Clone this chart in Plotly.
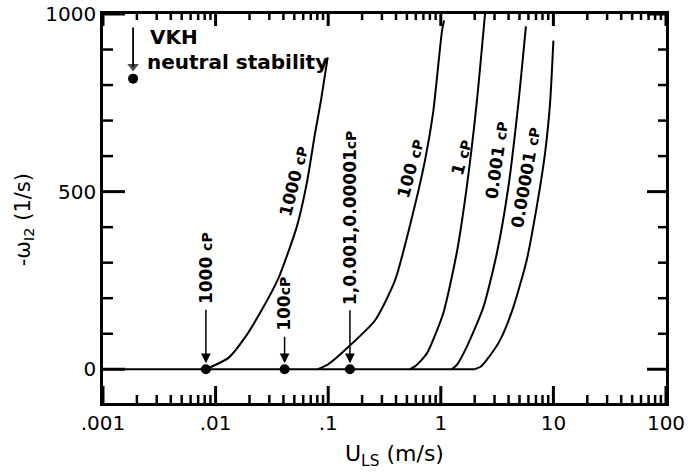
import numpy as np
import plotly.graph_objects as go

# ---- data ----
x_1000 = [0.0082, 0.013, 0.0182, 0.0256, 0.036, 0.0525, 0.0644, 0.0764, 0.0863, 0.099]
y_1000 = [0, 32, 89, 166, 255, 400, 522, 664, 757, 878]

x_100 = [0.081, 0.1, 0.150, 0.261, 0.392, 0.566, 0.724, 0.853, 1.026, 1.07]
y_100 = [0, 14, 62, 138, 250, 439, 588, 720, 954, 982]

x_1 = [0.53, 0.6, 0.75, 1.05, 1.38, 1.70, 2.08, 2.47]
y_1 = [0, 10, 44, 157, 325, 513, 747, 1000]

x_0001 = [1.25, 1.4, 1.70, 2.39, 3.14, 3.98, 4.88, 5.7]
y_0001 = [0, 14, 63, 175, 325, 513, 747, 965]

x_000001 = [2.0, 2.25, 2.55, 3.36, 4.41, 5.79, 7.11, 8.42, 9.33, 10.0]
y_000001 = [0, 7, 26, 82, 175, 307, 457, 607, 747, 925]

baseline_x = [0.001, 2.0]
baseline_y = [0, 0]

onset_x = [0.0082, 0.041, 0.156]
onset_y = [0, 0, 0]
onset_labels = ["1000 cP", "100cP", "1,0.001,0.00001cP"]

vkh_x = [0.00185]
vkh_y = [818]
vkh_arrow_x = [0.00185, 0.00185]
vkh_arrow_y = [962, 852]

curve_labels = ["1000 cP", "100 cP", "1 cP", "0.001 cP", "0.00001 cP"]

x_tickvals = [0.001, 0.01, 0.1, 1, 10, 100]
x_ticktext = [".001", ".01", ".1", "1", "10", "100"]
y_tickvals = [0, 500, 1000]
y_minorvals = [100, 200, 300, 400, 600, 700, 800, 900]

X_RANGE = [-3, 2]      # log10 units
Y_RANGE = [-95, 1000]

FONT = "DejaVu Sans"
BLACK = "black"

W, H = 690, 472
ML, MR, MT, MB = 103, 24, 14, 69
PW, PH = W - ML - MR, H - MT - MB
px_per_decade = PW / (X_RANGE[1] - X_RANGE[0])
px_per_unit = PH / (Y_RANGE[1] - Y_RANGE[0])

fig = go.Figure()
line = dict(color=BLACK, width=2, shape="spline", smoothing=0.6)
fig.add_trace(go.Scatter(x=baseline_x, y=baseline_y, mode="lines", line=dict(color=BLACK, width=2)))
for xs, ys in [(x_1000, y_1000), (x_100, y_100), (x_1, y_1), (x_0001, y_0001), (x_000001, y_000001)]:
    fig.add_trace(go.Scatter(x=xs, y=ys, mode="lines", line=line))
fig.add_trace(go.Scatter(x=onset_x, y=onset_y, mode="markers",
                         marker=dict(color=BLACK, size=10)))
fig.add_trace(go.Scatter(x=vkh_x, y=vkh_y, mode="markers",
                         marker=dict(color=BLACK, size=10)))
# VKH arrow: shaft + head
fig.add_trace(go.Scatter(x=vkh_arrow_x, y=vkh_arrow_y, mode="lines+markers",
                         line=dict(color=BLACK, width=1.8),
                         marker=dict(symbol=["circle", "triangle-down"], size=[0, 10],
                                     color=BLACK, line=dict(width=0))))

# ---- inside tick marks on all four sides, built from the tick value lists ----
x_minorvals = [m * v for v in x_tickvals[:-1] for m in range(2, 10)]
xmin, xmax = 10 ** X_RANGE[0], 10 ** X_RANGE[1]
ymin, ymax = Y_RANGE

def tick_trace(xs, ys, width):
    fig.add_trace(go.Scatter(x=xs, y=ys, mode="lines", line=dict(color=BLACK, width=width),
                             hoverinfo="skip", connectgaps=False))

def x_ticks(vals, lb, lt, width):
    xs, ys = [], []
    for v in vals:
        xs += [v, v, None, v, v, None]
        ys += [ymin + lb / px_per_unit, ymin, None, ymax - lt / px_per_unit, ymax, None]
    tick_trace(xs, ys, width)

def y_ticks(vals, ll, lr, width):
    xs, ys = [], []
    for v in vals:
        xs += [xmin * 10 ** (ll / px_per_decade), xmin, None,
               xmax / 10 ** (lr / px_per_decade), xmax, None]
        ys += [v, v, None, v, v, None]
    tick_trace(xs, ys, width)

x_ticks(x_tickvals, 17, 12, 3)
x_ticks(x_minorvals, 8, 6, 2.5)
y_ticks(y_tickvals, 22, 19, 3)
y_ticks(y_minorvals, 10, 8, 2.5)

ann = []
lab_font = dict(family=FONT, size=17, color=BLACK, weight="bold")

def small_cp(t):
    return t.replace("cP", "<span style='font-size:14px'>cP</span>")

# onset labels (vertical) with arrows down to the dots
onset_offsets = [-95, -59, -146]
for px, lab, off in zip(onset_x, onset_labels, onset_offsets):
    ann.append(dict(x=np.log10(px), y=17, xref="x", yref="y", text=small_cp(lab),
                    showarrow=True, ax=0, ay=off, textangle=-90, font=lab_font,
                    arrowhead=2, arrowsize=1.3, arrowwidth=1.5, arrowcolor=BLACK,
                    startstandoff=4))

# curve labels
curve_label_pos = [(-1.304, 529, -76), (-0.274, 565, -75), (0.179, 596, -75),
                   (0.499, 588, -82), (0.757, 540, -80)]
for t, (lx, ly, ang) in zip(curve_labels, curve_label_pos):
    ann.append(dict(x=lx, y=ly, xref="x", yref="y", text=small_cp(t), showarrow=False,
                    textangle=ang, font=lab_font))

# VKH legend text
vkh_font = dict(family=FONT, size=20, color=BLACK, weight="bold")
ann.append(dict(x=-2.6, y=934, xref="x", yref="y", text="VKH", showarrow=False,
                xanchor="left", yanchor="middle", font=vkh_font))
ann.append(dict(x=-2.63, y=866, xref="x", yref="y", text="neutral stability", showarrow=False,
                xanchor="left", yanchor="middle", font=vkh_font))

# axis titles
ann.append(dict(x=0.517, y=-0.134, xref="paper", yref="paper", text="U<sub>LS</sub> (m/s)",
                xanchor="center", yanchor="middle",
                showarrow=False, font=dict(family=FONT, size=22, color=BLACK)))
ann.append(dict(x=-0.14, y=0.47, xref="paper", yref="paper", text="-ω<sub>I2</sub> (1/s)",
                xanchor="center", yanchor="middle",
                showarrow=False, textangle=-90, font=dict(family=FONT, size=21, color=BLACK)))

fig.update_layout(
    width=W, height=H, margin=dict(l=ML, r=MR, t=MT, b=MB, autoexpand=False),
    paper_bgcolor="white", plot_bgcolor="white", showlegend=False,
    annotations=ann,
    xaxis=dict(type="log", range=X_RANGE, tickmode="array", tickvals=x_tickvals,
               ticktext=x_ticktext, ticks="", automargin=False,
               showline=True, linewidth=2.5, linecolor=BLACK, mirror=True,
               showgrid=False, zeroline=False,
               tickfont=dict(family=FONT, size=20, color=BLACK)),
    yaxis=dict(range=Y_RANGE, tickmode="array", tickvals=y_tickvals, ticks="", automargin=False,
               showline=True, linewidth=2.5, linecolor=BLACK, mirror=True,
               showgrid=False, zeroline=False,
               tickfont=dict(family=FONT, size=20, color=BLACK)),
)

fig.write_html("out.html")
